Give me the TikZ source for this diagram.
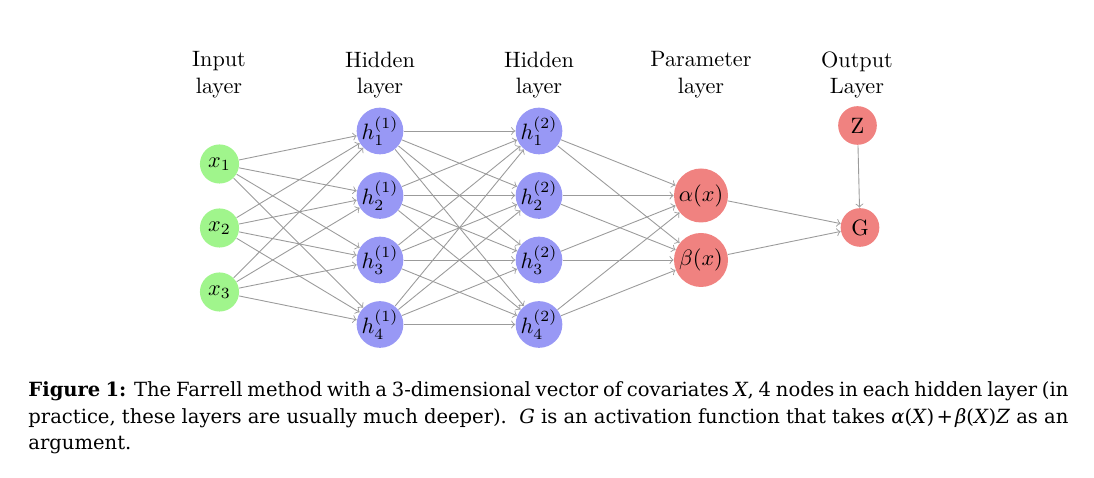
\documentclass[tikz,border=0pt]{standalone}
\usepackage{fontspec}
\newfontfamily\capfont{DejaVu Serif}
\definecolor{ingreen}{RGB}{160,245,140}
\definecolor{hidblue}{RGB}{152,152,245}
\definecolor{parred}{RGB}{240,130,128}
\definecolor{edgegray}{RGB}{155,155,155}
\begin{document}
\begin{tikzpicture}[x=0.45pt,y=-0.45pt,
  neuron/.style={circle,inner sep=0pt,draw=none},
  innode/.style={neuron,fill=ingreen,minimum size=17.6pt},
  hidnode/.style={neuron,fill=hidblue,minimum size=19.8pt},
  parnode/.style={neuron,fill=parred,minimum size=24.3pt},
  outnode/.style={neuron,fill=parred,minimum size=17.4pt},
  conn/.style={->,draw=edgegray,line width=0.4pt},
  layerlabel/.style={align=center,anchor=center,inner sep=0pt},
  capline/.style={anchor=base west,inner sep=0pt,font=\capfont\fontsize{8.8pt}{11.9pt}\selectfont}]
\useasboundingbox (0,0) rectangle (1094,478);
% labels
\node[layerlabel] (lin) at (219,75) {Input\\layer};
\node[layerlabel] (lh1) at (380,75) {Hidden\\layer};
\node[layerlabel] (lh2) at (539,75) {Hidden\\layer};
\node[layerlabel] (lpar) at (701,75) {Parameter\\layer};
\node[layerlabel] (lout) at (857,75) {Output\\Layer};
% input
\node[innode] (x1) at (219.5,164) {$x_1$};
\node[innode] (x2) at (219.5,228) {$x_2$};
\node[innode] (x3) at (219.5,292) {$x_3$};
% hidden 1
\node[hidnode] (ha1) at (380,131) {$h^{(1)}_1$};
\node[hidnode] (ha2) at (380,195.5) {$h^{(1)}_2$};
\node[hidnode] (ha3) at (380,260) {$h^{(1)}_3$};
\node[hidnode] (ha4) at (380,324.5) {$h^{(1)}_4$};
% hidden 2
\node[hidnode] (hb1) at (539,131) {$h^{(2)}_1$};
\node[hidnode] (hb2) at (539,195.5) {$h^{(2)}_2$};
\node[hidnode] (hb3) at (539,260) {$h^{(2)}_3$};
\node[hidnode] (hb4) at (539,324.5) {$h^{(2)}_4$};
% parameter
\node[parnode] (alpha) at (701,195.5) {$\alpha(x)$};
\node[parnode] (beta) at (701,260) {$\beta(x)$};
% output
\node[outnode] (Z) at (857.5,125.5) {Z};
\node[outnode] (G) at (860,227.5) {G};
% connections
\foreach \i in {1,2,3} \foreach \j in {1,...,4} \draw[conn] (x\i) -- (ha\j);
\foreach \i in {1,...,4} \foreach \j in {1,...,4} \draw[conn] (ha\i) -- (hb\j);
\foreach \i in {1,...,4} {\draw[conn] (hb\i) -- (alpha); \draw[conn] (hb\i) -- (beta);}
\draw[conn] (alpha) -- (G);
\draw[conn] (beta) -- (G);
\draw[conn] (Z) -- (G);
% caption
\node[capline] (cap1) at (28,397) {\makebox[468pt][s]{\textbf{Figure 1:} The Farrell method with a 3-dimensional vector of covariates \textit{X}, 4 nodes in each hidden layer (in}};
\node[capline] (cap2) at (28,423.5) {\makebox[468pt][s]{practice, these layers are usually much deeper).\ \ \textit{G} is an activation function that takes \textit{α}(\textit{X})\kern1pt+\kern1pt\textit{β}(\textit{X})\textit{Z} as an}};
\node[capline] (cap3) at (28,450) {argument.};
\end{tikzpicture}
\end{document}
